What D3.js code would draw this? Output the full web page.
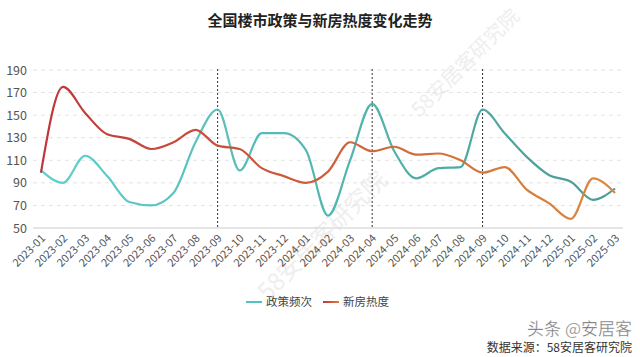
<!DOCTYPE html>
<html>
<head>
<meta charset="utf-8">
<script src="https://cdn.jsdelivr.net/npm/d3@7"></script>
<style>
  body { margin: 0; background: #fff; }
  svg { display: block; font-family: "Noto Sans CJK SC", "Noto Sans", sans-serif; }
</style>
</head>
<body>
<svg width="640" height="357"></svg>
<script>
var months = ["2023-01","2023-02","2023-03","2023-04","2023-05","2023-06","2023-07","2023-08","2023-09",
    "2023-10","2023-11","2023-12","2024-01","2024-02","2024-03","2024-04","2024-05","2024-06","2024-07",
    "2024-08","2024-09","2024-10","2024-11","2024-12","2025-01","2025-02","2025-03"];

var policy = [101, 90, 114, 96, 73, 70, 81, 126, 155, 101, 134, 134, 119, 61, 110, 160, 118, 94, 103,
    104, 155, 134, 113, 97, 91, 75, 85];

var heat = [99, 175, 152, 133, 129, 120, 126, 137, 123, 120, 103, 96, 90, 100, 126, 118, 122, 115, 116,
    110, 99, 104, 84, 72, 58, 94, 81];

var yTicks = [50, 70, 90, 110, 130, 150, 170, 190];
var markers = ["2023-09", "2024-04", "2024-09"];
var seriesNames = ["政策频次", "新房热度"];

var width = 640,
    height = 357,
    margin = { left: 33, right: 17, top: 70, bottom: 129 };

var svg = d3.select('svg');

var x = d3.scalePoint()
    .domain(months)
    .range([margin.left, width - margin.right])
    .padding(0.36);

var y = d3.scaleLinear()
    .domain([50, 190])
    .range([height - margin.bottom, margin.top]);

var defs = svg.append('defs');

var gradTeal = defs.append('linearGradient')
    .attr('id', 'gTeal')
    .attr('gradientUnits', 'userSpaceOnUse')
    .attr('x1', x(months[0])).attr('x2', x(months[months.length - 1]))
    .attr('y1', 0).attr('y2', 0);
gradTeal.append('stop').attr('offset', '0%').attr('stop-color', '#5fd0cf');
gradTeal.append('stop').attr('offset', '100%').attr('stop-color', '#4a9c92');

var gradRed = defs.append('linearGradient')
    .attr('id', 'gRed')
    .attr('gradientUnits', 'userSpaceOnUse')
    .attr('x1', x(months[0])).attr('x2', x(months[months.length - 1]))
    .attr('y1', 0).attr('y2', 0);
gradRed.append('stop').attr('offset', '0%').attr('stop-color', '#c0363a');
gradRed.append('stop').attr('offset', '100%').attr('stop-color', '#dc8a3c');

var legRed = defs.append('linearGradient').attr('id', 'gRedLeg');
legRed.append('stop').attr('offset', '0%').attr('stop-color', '#c0363a');
legRed.append('stop').attr('offset', '100%').attr('stop-color', '#dc7a3c');

// background watermark
var wm = svg.append('g').attr('fill', '#eeeeee');
[[420, 118, 20], [268, 302, 24]].forEach(function (p) {
    wm.append('text')
        .attr('font-size', p[2])
        .attr('transform', 'translate(' + p[0] + ',' + p[1] + ') rotate(-45)')
        .text('58安居客研究院');
});

// title
svg.append('text')
    .attr('x', 320)
    .attr('y', 26)
    .attr('text-anchor', 'middle')
    .attr('font-size', 15)
    .attr('font-weight', 'bold')
    .attr('fill', '#222')
    .text('全国楼市政策与新房热度变化走势');

// grid
svg.append('g')
    .selectAll('line')
    .data(yTicks.slice(1))
    .enter().append('line')
    .attr('x1', margin.left)
    .attr('x2', width - margin.right)
    .attr('y1', function (d) { return y(d); })
    .attr('y2', function (d) { return y(d); })
    .attr('stroke', '#e3e3e3')
    .attr('stroke-dasharray', '4,4');

svg.append('line')
    .attr('x1', margin.left)
    .attr('x2', width - margin.right)
    .attr('y1', y(50))
    .attr('y2', y(50))
    .attr('stroke', '#dcdcdc')
    .attr('stroke-width', 1.5);

// y labels
svg.append('g')
    .selectAll('text')
    .data(yTicks)
    .enter().append('text')
    .attr('x', 27)
    .attr('y', function (d) { return y(d) + 4.5; })
    .attr('text-anchor', 'end')
    .attr('font-size', 12.5)
    .attr('fill', '#555')
    .text(function (d) { return d; });

// x labels
svg.append('g')
    .selectAll('text')
    .data(months)
    .enter().append('text')
    .attr('transform', function (d) { return 'translate(' + (x(d) + 5) + ',' + (y(50) + 11) + ') rotate(-45)'; })
    .attr('text-anchor', 'end')
    .attr('font-size', 11)
    .attr('fill', '#555')
    .text(function (d) { return d; });

// marker lines
svg.append('g')
    .selectAll('line')
    .data(markers)
    .enter().append('line')
    .attr('x1', function (d) { return x(d); })
    .attr('x2', function (d) { return x(d); })
    .attr('y1', y(190) - 1)
    .attr('y2', y(50))
    .attr('stroke', '#333')
    .attr('stroke-width', 1)
    .attr('stroke-dasharray', '2,2');

var line = d3.line()
    .x(function (d, i) { return x(months[i]); })
    .y(function (d) { return y(d); })
    .curve(d3.curveMonotoneX);

svg.append('path')
    .datum(policy)
    .attr('d', line)
    .attr('fill', 'none')
    .attr('stroke', 'url(#gTeal)')
    .attr('stroke-width', 2.2);

svg.append('path')
    .datum(heat)
    .attr('d', line)
    .attr('fill', 'none')
    .attr('stroke', 'url(#gRed)')
    .attr('stroke-width', 2.2);

// legend
var legend = svg.append('g').attr('font-size', 11.5).attr('fill', '#444');
var legendX = [246, 323];
var legendStroke = ['#55c2c0', 'url(#gRedLeg)'];
seriesNames.forEach(function (name, i) {
    legend.append('rect')
        .attr('x', legendX[i])
        .attr('y', 301)
        .attr('width', 16)
        .attr('height', 2)
        .attr('fill', legendStroke[i]);
    legend.append('text')
        .attr('x', legendX[i] + 20)
        .attr('y', 306)
        .text(name);
});

// source
svg.append('text')
    .attr('x', 632)
    .attr('y', 352)
    .attr('text-anchor', 'end')
    .attr('font-size', 12)
    .attr('fill', '#333')
    .text('数据来源：58安居客研究院');

svg.append('text')
    .attr('x', 632)
    .attr('y', 335)
    .attr('text-anchor', 'end')
    .attr('font-size', 17)
    .attr('fill', 'rgba(60,60,60,0.75)')
    .attr('stroke', 'rgba(255,255,255,0.6)')
    .attr('stroke-width', 0.6)
    .text('头条 @安居客');
</script>
</body>
</html>
